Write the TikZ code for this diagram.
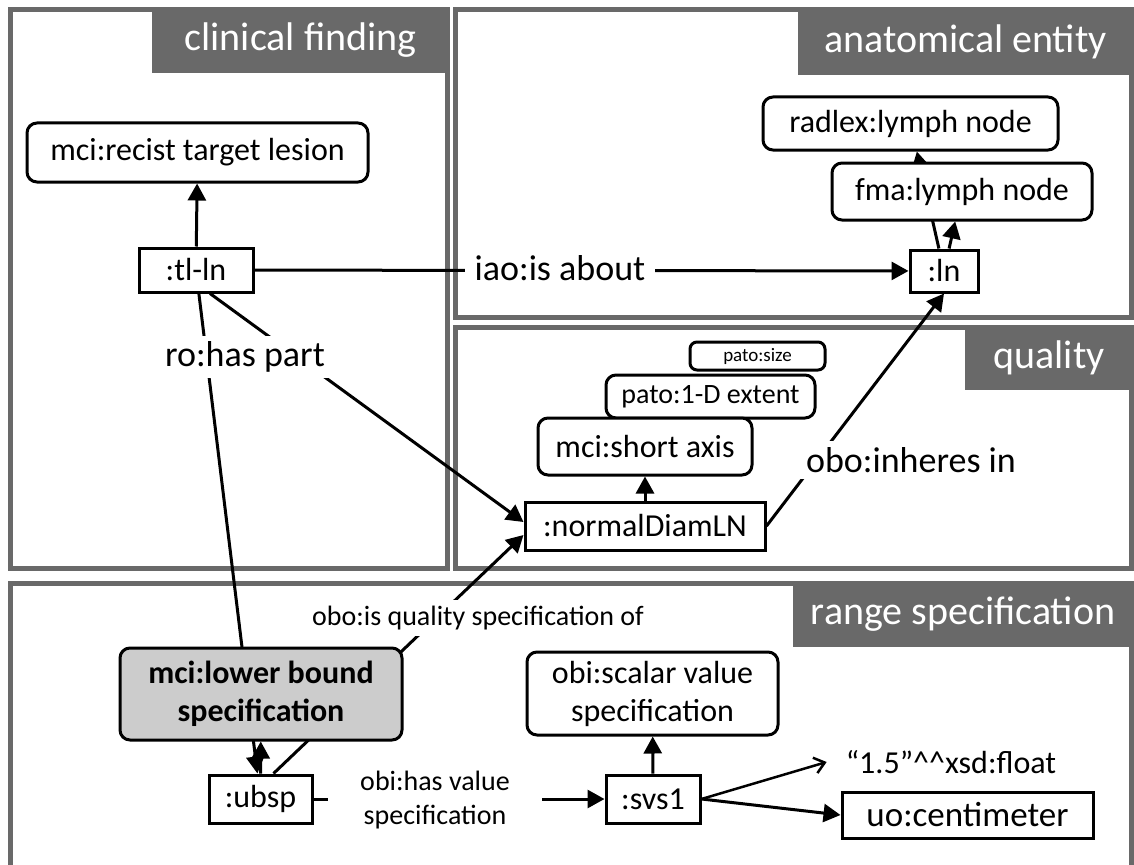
\documentclass[tikz,border=0pt]{standalone}
\usepackage{fontspec}
\setmainfont{Carlito}
\usetikzlibrary{arrows.meta}
\tikzset{>={Triangle[length=17pt,width=18pt]}}
\definecolor{panelgray}{RGB}{105,105,105}
\definecolor{boundgray}{RGB}{204,204,204}
\newcommand{\fsize}[2]{\fontsize{#1}{#2}\selectfont}
\pgfdeclarelayer{frames}
\pgfdeclarelayer{links}
\pgfsetlayers{frames,links,main}

\begin{document}
\begin{tikzpicture}[x=1pt, y=-1pt,
    cls/.style={draw, line width=3pt, rounded corners=10pt, fill=white, align=center, inner sep=0pt, font=\fsize{32}{38}},
    inst/.style={draw, line width=3pt, fill=white, inner sep=0pt, font=\fsize{32}{38}},
    rel/.style={fill=white, inner sep=6pt, align=center, font=\fsize{36}{40}},
    smallrel/.style={rel, font=\fsize{28}{34}},
    link/.style={line width=3pt, -{Triangle[length=17pt,width=18pt]}},
    frame/.style={draw=panelgray, line width=5pt},
    paneltitle/.style={fill=panelgray, text=white, anchor=north east, inner sep=0pt, font=\fsize{40}{44}}]
    \useasboundingbox (0,0) rectangle (1134,864);

    % panels
    \begin{pgfonlayer}{frames}
    \draw[frame] (10,10) rectangle (447,568);
    \draw[frame] (455,10) rectangle (1131,317);
    \draw[frame] (455,327) rectangle (1131,568);
    \draw[frame] (10,583) rectangle (1131,880);
    \node[paneltitle, minimum width=297.5pt, minimum height=65.5pt] (cfTitle) at (449.5,7.5) {clinical finding};
    \node[paneltitle, minimum width=335.5pt, minimum height=67.5pt] (aeTitle) at (1133.5,7.5) {anatomical entity};
    \node[paneltitle, minimum width=168.5pt, minimum height=65.5pt] (qTitle) at (1133.5,324.5) {quality};
    \node[paneltitle, minimum width=340.5pt, minimum height=66.5pt] (rsTitle) at (1133.5,580.5) {range specification};
    \end{pgfonlayer}

    % clinical finding
    \node[cls, minimum width=341pt, minimum height=59pt] (recist) at (197.5,152.5) {mci:recist target lesion};
    \node[inst, minimum width=114pt, minimum height=44pt] (tlln) at (196,270) {:tl-ln};

    % anatomical entity
    \node[cls, minimum width=295pt, minimum height=53pt] (radlex) at (910.5,123.5) {radlex:lymph node};
    \node[cls, minimum width=260pt, minimum height=57pt] (fma) at (962,191.5) {fma:lymph node};
    \node[inst, minimum width=68pt, minimum height=42pt] (ln) at (944,271) {:ln};

    % quality
    \node[cls, rounded corners=7pt, font=\fsize{19}{22}, minimum width=135pt, minimum height=28pt] (psize) at (757.5,356) {pato:size};
    \node[cls, font=\fsize{28}{32}, minimum width=209pt, minimum height=43pt] (pext) at (710.5,396.5) {pato:1-D extent};
    \node[cls, minimum width=214pt, minimum height=57pt] (short) at (645,446.5) {mci:short axis};
    \node[inst, minimum width=240pt, minimum height=48pt] (diam) at (645,526) {:normalDiamLN};

    % range specification
    \node[cls, fill=boundgray, font=\fsize{32}{38}\bfseries, minimum width=282pt, minimum height=92pt] (lower) at (261,694) {mci:lower bound\\specification};
    \node[inst, minimum width=103pt, minimum height=48pt] (ubsp) at (260.5,799) {:ubsp};
    \node[inst, minimum width=94pt, minimum height=48pt] (svs1) at (653,799) {:svs1};
    \node[cls, minimum width=251pt, minimum height=83pt] (scalar) at (652.5,693.5) {obi:scalar value\\specification};
    \node[inst, font=\fsize{35}{40}, minimum width=251pt, minimum height=46pt] (cm) at (967.5,815) {uo:centimeter};
    \node[inner sep=2pt, font=\fsize{32}{36}] (float) at (951,762) {“1.5”\textasciicircum\textasciicircum xsd:float};

    % property labels
    \node[rel] (haspart) at (245,357) {ro:has part};
    \node[rel, inner sep=10pt] (about) at (560,268) {iao:is about};
    \node[rel] (inheres) at (911,460) {obo:inheres in};
    \node[smallrel] (qualspec) at (478,618) {obo:is quality specification of};
    \node[smallrel, inner xsep=32pt] (hasvalue) at (435,800) {obi:has value\\specification};

    \begin{pgfonlayer}{links}
    \draw[link] (tlln) -- (recist);
    \draw[link] (tlln) -- (ln);
    \draw[link] (ln) -- (radlex);
    \draw[link] (ln) -- (fma);
    \draw[link] (tlln) -- (ubsp);
    \draw[link] ([xshift=14pt]tlln.south) -- ([yshift=4pt]diam.west);
    \draw[link] (diam) -- (short);
    \draw[link] (diam.east) -- (ln.south);
    \draw[link] (ubsp) -- (lower);
    \draw[link] ([xshift=13pt]ubsp.north) -- ([yshift=-9pt]diam.west);
    \draw[link] (ubsp) -- (svs1);
    \draw[link] (svs1) -- (scalar);
    \draw[link] (svs1.east) -- (cm.west);
    \draw[-{Straight Barb[length=10pt,width=16pt]}, line width=2.5pt] (svs1.east) -- ([xshift=-17pt]float.west);
    \end{pgfonlayer}
\end{tikzpicture}
\end{document}
